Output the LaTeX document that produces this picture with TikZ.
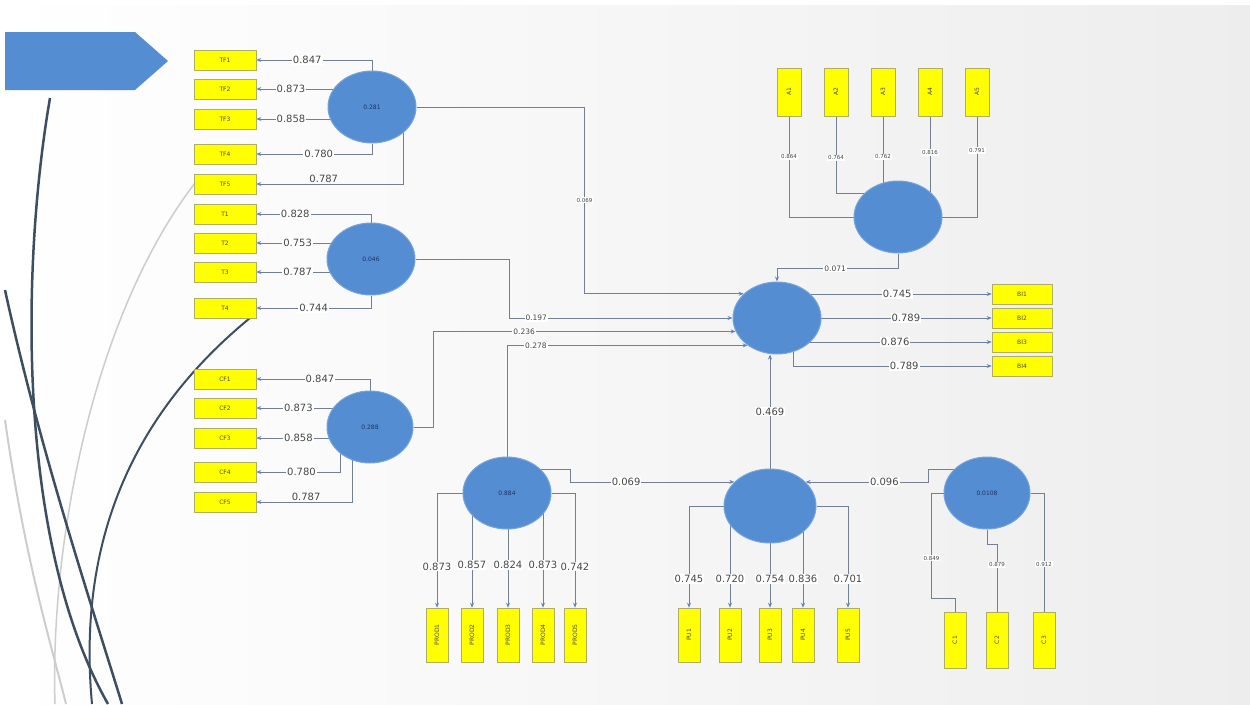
\documentclass[tikz,border=0pt]{standalone}
\usepackage{fontspec}
\setmainfont{DejaVu Sans}
\usetikzlibrary{shapes.geometric,arrows.meta,calc}
\definecolor{ellblue}{RGB}{84,141,210}
\definecolor{lineg}{RGB}{115,128,145}
\definecolor{tipblue}{RGB}{95,130,200}
\definecolor{boxy}{RGB}{255,255,0}
\definecolor{boxb}{RGB}{175,175,100}
\definecolor{txt}{RGB}{70,70,70}
\definecolor{navy}{RGB}{30,50,100}
\definecolor{curvedark}{RGB}{62,78,98}
\definecolor{curvelight}{RGB}{205,205,205}
\pgfdeclarelayer{bgl}\pgfdeclarelayer{lines}\pgfsetlayers{bgl,lines,main}
\tikzset{
 ind/.style={rectangle,fill=boxy,draw=boxb,line width=0.6pt,minimum width=62pt,minimum height=20pt,inner sep=0pt,font=\fontsize{6}{6}\selectfont,text=black!70},
 vind/.style={ind,minimum width=22pt,minimum height=54pt},
 lat/.style={ellipse,fill=ellblue,draw=ellblue!80!white,line width=1pt,minimum width=88pt,minimum height=72pt,inner sep=0pt,font=\fontsize{6}{6}\selectfont,text=navy},
 conn/.style={draw=lineg,line width=0.8pt},
 arr/.style={-{Stealth[length=5pt,width=4pt,color=tipblue]}},
 lbl/.style={fill=white,inner sep=1pt,text=txt,font=\fontsize{10}{10}\selectfont},
 slbl/.style={lbl,font=\fontsize{7.5}{7.5}\selectfont},
 tlbl/.style={lbl,font=\fontsize{5.5}{5.5}\selectfont},
}
\begin{document}
\begin{tikzpicture}[x=1pt,y=-1pt]
\useasboundingbox (0,0) rectangle (1250,704);
\begin{pgfonlayer}{bgl}
\fill[white] (0,0) rectangle (1250,704);
\shade[left color=white,right color=gray!14] (5,5) rectangle (1250,704);
\draw[curvelight,line width=1.5pt] (195,183) .. controls (90,320) and (50,550) .. (55,704);
\draw[curvelight,line width=2pt] (5,420) .. controls (25,560) and (50,640) .. (66,704);
\draw[curvedark,line width=2.5pt] (50,98) .. controls (22,260) and (15,540) .. (108,704);
\draw[curvedark,line width=2.5pt] (5,290) .. controls (40,450) and (90,600) .. (122,704);
\draw[curvedark,line width=2pt] (250,318) .. controls (150,400) and (75,520) .. (92,704);
\fill[ellblue] (5,32) -- (135,32) -- (168,61) -- (135,90) -- (5,90) -- cycle;
\end{pgfonlayer}

% indicator boxes left
\node[ind] (TF1) at (225,60) {TF1};
\node[ind] (TF2) at (225,89) {TF2};
\node[ind] (TF3) at (225,119) {TF3};
\node[ind] (TF4) at (225,154) {TF4};
\node[ind] (TF5) at (225,184) {TF5};
\node[ind] (T1) at (225,214) {T1};
\node[ind] (T2) at (225,243) {T2};
\node[ind] (T3) at (225,272) {T3};
\node[ind] (T4) at (225,308) {T4};
\node[ind] (CF1) at (225,379) {CF1};
\node[ind] (CF2) at (225,408) {CF2};
\node[ind] (CF3) at (225,438) {CF3};
\node[ind] (CF4) at (225,472) {CF4};
\node[ind] (CF5) at (225,502) {CF5};
% BI boxes
\node[ind,minimum width=60pt] (BI1) at (1022,294) {BI1};
\node[ind,minimum width=60pt] (BI2) at (1022,318) {BI2};
\node[ind,minimum width=60pt] (BI3) at (1022,342) {BI3};
\node[ind,minimum width=60pt] (BI4) at (1022,366) {BI4};
% A boxes
\node[vind,minimum width=24pt,minimum height=48pt] (A1) at (789,92) {\rotatebox{90}{A1}};
\node[vind,minimum width=24pt,minimum height=48pt] (A2) at (836,92) {\rotatebox{90}{A2}};
\node[vind,minimum width=24pt,minimum height=48pt] (A3) at (883,92) {\rotatebox{90}{A3}};
\node[vind,minimum width=24pt,minimum height=48pt] (A4) at (930,92) {\rotatebox{90}{A4}};
\node[vind,minimum width=24pt,minimum height=48pt] (A5) at (977,92) {\rotatebox{90}{A5}};
% PROD boxes
\node[vind] (P1) at (437,635) {\rotatebox{90}{PROD1}};
\node[vind] (P2) at (472,635) {\rotatebox{90}{PROD2}};
\node[vind] (P3) at (508,635) {\rotatebox{90}{PROD3}};
\node[vind] (P4) at (543,635) {\rotatebox{90}{PROD4}};
\node[vind] (P5) at (575,635) {\rotatebox{90}{PROD5}};
% PU boxes
\node[vind] (U1) at (689,635) {\rotatebox{90}{PU1}};
\node[vind] (U2) at (730,635) {\rotatebox{90}{PU2}};
\node[vind] (U3) at (770,635) {\rotatebox{90}{PU3}};
\node[vind] (U4) at (803,635) {\rotatebox{90}{PU4}};
\node[vind] (U5) at (848,635) {\rotatebox{90}{PU5}};
% C boxes
\node[vind,minimum height=56pt] (C1) at (955,640) {\rotatebox{90}{C1}};
\node[vind,minimum height=56pt] (C2) at (997,640) {\rotatebox{90}{C2}};
\node[vind,minimum height=56pt] (C3) at (1044,640) {\rotatebox{90}{C3}};

% latent variables
\node[lat] (eTF) at (372,107) {0.281};
\node[lat] (eT) at (371,259) {0.046};
\node[lat,minimum width=86pt] (eCF) at (370,427) {0.288};
\node[lat] (eBI) at (777,318) {};
\node[lat] (eA) at (898,217) {};
\node[lat,minimum width=92pt,minimum height=74pt] (ePU) at (770,506) {};
\node[lat] (ePROD) at (507,493) {0.884};
\node[lat,minimum width=86pt] (eC) at (987,493) {0.0108};

\begin{pgfonlayer}{lines}
% TF loadings
\draw[conn,arr] (eTF.north) |- (TF1.east) node[lbl,pos=0.78]{0.847};
\draw[conn,arr] (TF2.east -| eTF) -- (TF2.east) node[lbl,pos=0.7]{0.873};
\draw[conn,arr] (TF3.east -| eTF) -- (TF3.east) node[lbl,pos=0.7]{0.858};
\draw[conn,arr] (eTF.south) |- (TF4.east) node[lbl,pos=0.73]{0.780};
\draw[conn,arr] ($(eTF)+(31,0)$) |- (TF5.east) node[lbl,pos=0.77,yshift=5pt,fill=none]{0.787};
% T loadings
\draw[conn,arr] (eT.north) |- (T1.east) node[lbl,pos=0.83]{0.828};
\draw[conn,arr] (T2.east -| eT) -- (T2.east) node[lbl,pos=0.64]{0.753};
\draw[conn,arr] (T3.east -| eT) -- (T3.east) node[lbl,pos=0.64]{0.787};
\draw[conn,arr] (eT.south) |- (T4.east) node[lbl,pos=0.75]{0.744};
% CF loadings
\draw[conn,arr] (eCF.north) |- (CF1.east) node[lbl,pos=0.72]{0.847};
\draw[conn,arr] (CF2.east -| eCF) -- (CF2.east) node[lbl,pos=0.63]{0.873};
\draw[conn,arr] (CF3.east -| eCF) -- (CF3.east) node[lbl,pos=0.63]{0.858};
\draw[conn,arr] ($(eCF)+(-30,0)$) |- (CF4.east) node[lbl,pos=0.73]{0.780};
\draw[conn,arr] ($(eCF)+(-18,0)$) |- (CF5.east) node[lbl,pos=0.74,yshift=5pt,fill=none]{0.787};
% A (formative, no tips)
\draw[conn] (A1.south) |- (eA.center) node[tlbl,pos=0.2]{0.864};
\draw[conn] (A2.south) |- ($(eA)+(0,-24)$) node[tlbl,pos=0.27]{0.764};
\draw[conn] (A3.south) -- (A3.south |- eA) node[tlbl,pos=0.4]{0.762};
\draw[conn] (A4.south) -- (A4.south |- eA) node[tlbl,pos=0.36]{0.816};
\draw[conn] (A5.south) |- (eA.center) node[tlbl,pos=0.17]{0.791};
% structural paths
\draw[conn,arr] (eA.south) -- ++(0,15) -| (eBI.north) node[slbl,pos=0.26]{0.071};
\draw[conn,arr] (eTF.east) -- ++(168,0) |- (eBI.144) node[tlbl,pos=0.25]{0.069};
\draw[conn,arr] (eT.east) -- ++(94,0) |- (eBI.west) node[slbl,pos=0.56]{0.197};
\draw[conn,arr] (eCF.east) -- ++(20,0) |- (eBI.198) node[slbl,pos=0.65]{0.236};
\draw[conn,arr] (ePROD.north) |- (eBI.223) node[slbl,pos=0.56]{0.278};
\draw[conn,arr] (ePROD.34) -- ++(29,0) |- (ePU.146) node[lbl,pos=0.67]{0.069};
\draw[conn,arr] (eC.145) -- ++(-25,0) |- (ePU.34) node[lbl,pos=0.68]{0.096};
\draw[conn,arr] (ePU.north) -- (ePU.north |- eBI.south) node[lbl,pos=0.5]{0.469};
% BI loadings
\draw[conn,arr] (eBI |- BI1) -- (BI1.west) node[lbl,pos=0.56]{0.745};
\draw[conn,arr] (eBI |- BI2) -- (BI2.west) node[lbl,pos=0.6]{0.789};
\draw[conn,arr] (eBI |- BI3) -- (BI3.west) node[lbl,pos=0.55]{0.876};
\draw[conn,arr] ($(eBI)+(16,0)$) |- (BI4.west) node[lbl,pos=0.78]{0.789};
% PROD loadings
\draw[conn,arr] (ePROD.west) -| (P1.north) node[lbl,pos=0.82]{0.873};
\draw[conn,arr] (P2.north |- ePROD) -- (P2.north) node[lbl,pos=0.63]{0.857};
\draw[conn,arr] (P3.north |- ePROD) -- (P3.north) node[lbl,pos=0.63]{0.824};
\draw[conn,arr] (P4.north |- ePROD) -- (P4.north) node[lbl,pos=0.63]{0.873};
\draw[conn,arr] (ePROD.east) -| (P5.north) node[lbl,pos=0.82]{0.742};
% PU loadings
\draw[conn,arr] (ePU.west) -| (U1.north) node[lbl,pos=0.86]{0.745};
\draw[conn,arr] (U2.north |- ePU) -- (U2.north) node[lbl,pos=0.72]{0.720};
\draw[conn,arr] (U3.north |- ePU) -- (U3.north) node[lbl,pos=0.72]{0.754};
\draw[conn,arr] (U4.north |- ePU) -- (U4.north) node[lbl,pos=0.72]{0.836};
\draw[conn,arr] (ePU.east) -| (U5.north) node[lbl,pos=0.86]{0.701};
% C (formative, no tips)
\draw[conn] (eC.west) -| ++(-12,105) node[tlbl,pos=0.81]{0.849} -| (C1.north);
\draw[conn] (eC.south) -- ++(0,15) -| (C2.north) node[tlbl,pos=0.65]{0.879};
\draw[conn] (eC.east) -| (C3.north) node[tlbl,pos=0.8]{0.912};
\end{pgfonlayer}
\end{tikzpicture}
\end{document}
